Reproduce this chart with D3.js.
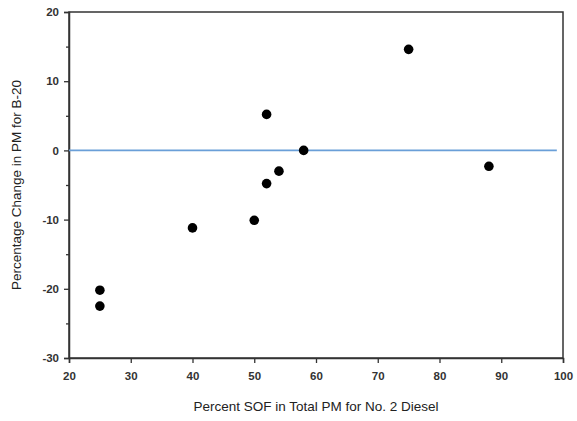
<!DOCTYPE html>
<html><head><meta charset="utf-8">
<script src="https://cdn.jsdelivr.net/npm/d3@7"></script>
<style>body{margin:0;background:#fff}svg{display:block}</style>
</head><body><svg id="c" width="577" height="421"></svg>
<script>
const sofPercent = [25, 25, 40, 50, 52, 52, 54, 58, 75, 88];
const pmChange = [-20.2, -22.5, -11.2, -10.1, 5.2, -4.8, -3.0, 0.0, 14.6, -2.3];
const xTicks = [20, 30, 40, 50, 60, 70, 80, 90, 100];
const yTicks = [-30, -20, -10, 0, 10, 20];
const yMinor = [-25, -15, -5, 5, 15];
const refLine = [[20, 0], [99, 0]];

const svg = d3.select("#c");
const L = 69, R = 563, T = 12, B = 358;
const x = d3.scaleLinear().domain([20, 100]).range([L, R]);
const y = d3.scaleLinear().domain([-30, 20]).range([B, T]);
const font = "'Liberation Sans', Arial, sans-serif";
const fmt = d => String(d);

// frame
svg.append("rect").attr("x", L).attr("y", T).attr("width", R - L).attr("height", B - T)
  .attr("fill", "none").attr("stroke", "#333").attr("stroke-width", 1.5);

svg.append("g").attr("transform", `translate(0,${B})`)
  .call(d3.axisBottom(x).tickValues(xTicks).tickSize(5).tickPadding(9).tickFormat(fmt));
svg.append("g").attr("transform", `translate(${L},0)`)
  .call(d3.axisLeft(y).tickValues(yTicks).tickSize(5).tickPadding(5).tickFormat(fmt));
svg.append("g").attr("transform", `translate(${L},0)`)
  .call(d3.axisLeft(y).tickValues(yMinor).tickSize(3).tickFormat(""))
  .select(".domain").remove();
svg.selectAll(".domain").attr("stroke", "#333").attr("stroke-width", 1.5);
svg.selectAll(".tick line").attr("stroke", "#333").attr("stroke-width", 1.3);
svg.selectAll(".tick text").attr("font-family", font).attr("font-size", 11.5)
  .attr("font-weight", "bold").attr("fill", "#333");

// reference line
svg.append("path").datum(refLine)
  .attr("d", d3.line().x(d => x(d[0])).y(d => y(d[1])))
  .attr("stroke", "#6a9fd8").attr("stroke-width", 1.6).attr("fill", "none");

// points
svg.append("g").selectAll("circle").data(sofPercent.map((v, i) => [v, pmChange[i]]))
  .join("circle").attr("cx", d => x(d[0])).attr("cy", d => y(d[1])).attr("r", 4.8)
  .attr("fill", "#000");

// titles
svg.append("text").attr("x", (L + R) / 2).attr("y", 411).attr("text-anchor", "middle")
  .attr("font-family", font).attr("font-size", 13.5).attr("fill", "#222")
  .text("Percent SOF in Total PM for No. 2 Diesel");
svg.append("text").attr("transform", `translate(21,${(T + B) / 2}) rotate(-90)`)
  .attr("text-anchor", "middle")
  .attr("font-family", font).attr("font-size", 13.5).attr("fill", "#222")
  .text("Percentage Change in PM for B-20");
</script></body></html>
